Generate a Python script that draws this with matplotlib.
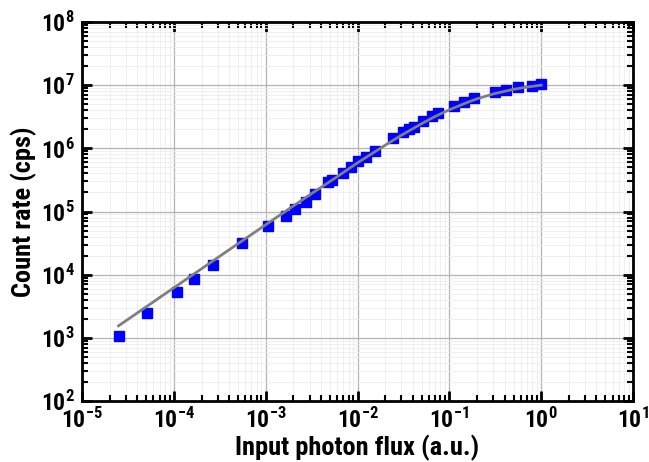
import matplotlib
matplotlib.use("Agg")
import matplotlib.pyplot as plt
from matplotlib.ticker import LogLocator, NullFormatter, FixedLocator
from matplotlib import font_manager

# ---- data ----
flux = [2.53e-5, 5.1e-5, 1.08e-4, 1.66e-4, 2.7e-4, 5.5e-4, 1.06e-3, 1.67e-3, 2.09e-3,
        2.75e-3, 3.45e-3, 4.8e-3, 5.25e-3, 6.9e-3, 8.45e-3, 1.0e-2, 1.24e-2, 1.56e-2,
        2.46e-2, 3.16e-2, 3.6e-2, 4.1e-2, 5.2e-2, 6.4e-2, 7.6e-2, 0.111, 0.143, 0.186,
        0.316, 0.416, 0.552, 0.80, 1.0]
counts = [1.07e3, 2.5e3, 5.3e3, 8.5e3, 1.43e4, 3.2e4, 5.9e4, 8.5e4, 1.1e5,
          1.4e5, 1.9e5, 2.9e5, 3.2e5, 4.0e5, 5.0e5, 6.2e5, 7.4e5, 9.2e5,
          1.44e6, 1.84e6, 2.05e6, 2.2e6, 2.75e6, 3.24e6, 3.6e6, 4.6e6, 5.5e6, 6.2e6,
          7.7e6, 8.4e6, 9.2e6, 9.7e6, 1.05e7]

fit_flux = [2.5e-5, 1e-4, 3e-4, 1e-3, 3e-3, 6e-3, 1e-2, 2e-2, 3e-2, 5e-2, 7e-2,
            0.1, 0.15, 0.2, 0.3, 0.5, 0.7, 1.0]
fit_counts = [1.55e3, 6.2e3, 1.86e4, 6.17e4, 1.83e5, 3.55e5, 5.9e5, 1.12e6, 1.61e6,
              2.46e6, 3.2e6, 4.08e6, 5.2e6, 6.08e6, 7.26e6, 8.6e6, 9.33e6, 1.0e7]

x_ticks = [1e-5, 1e-4, 1e-3, 1e-2, 1e-1, 1e0, 1e1]
x_tick_labels = [r'$\mathbf{10^{-5}}$', r'$\mathbf{10^{-4}}$', r'$\mathbf{10^{-3}}$',
                 r'$\mathbf{10^{-2}}$', r'$\mathbf{10^{-1}}$', r'$\mathbf{10^{0}}$',
                 r'$\mathbf{10^{1}}$']
y_ticks = [1e2, 1e3, 1e4, 1e5, 1e6, 1e7, 1e8]
y_tick_labels = [r'$\mathbf{10^{2}}$', r'$\mathbf{10^{3}}$', r'$\mathbf{10^{4}}$',
                 r'$\mathbf{10^{5}}$', r'$\mathbf{10^{6}}$', r'$\mathbf{10^{7}}$',
                 r'$\mathbf{10^{8}}$']

# ---- fonts: prefer a narrow bold sans ----
bold_fams = {f.name for f in font_manager.fontManager.ttflist if f.weight in (700, 'bold')}
fam = 'Liberation Sans'
for cand in ['Liberation Sans Narrow', 'Arial Narrow', 'Archivo Narrow', 'Roboto Condensed',
             'Pragati Narrow', 'PT Sans Narrow']:
    if cand in bold_fams:
        fam = cand
        break
plt.rcParams['font.family'] = [fam, 'DejaVu Sans']
plt.rcParams['mathtext.fontset'] = 'custom'
plt.rcParams['mathtext.rm'] = fam
plt.rcParams['mathtext.bf'] = fam + ':bold'
plt.rcParams['mathtext.it'] = fam + ':italic'

fig = plt.figure(figsize=(6.49, 4.62), dpi=100)
ax = fig.add_axes([0.1264, 0.132, 0.849, 0.8204])

ax.set_xscale('log')
ax.set_yscale('log')
ax.set_xlim(1e-5, 1e1)
ax.set_ylim(1e2, 1e8)

ax.grid(True, which='major', color='#b4b4b4', linewidth=0.9, zorder=0)
ax.grid(True, which='minor', color='#ececec', linewidth=0.6, zorder=0)
ax.set_axisbelow(True)

ax.plot(flux, counts, linestyle='none', marker='s', markersize=7.5,
        color='#0000ff', markeredgecolor='#0000ff', zorder=3)
ax.plot(fit_flux, fit_counts, color='#7f7f7f', linewidth=2.0, zorder=4)

ax.xaxis.set_major_locator(FixedLocator(x_ticks))
ax.yaxis.set_major_locator(FixedLocator(y_ticks))
ax.set_xticklabels(x_tick_labels)
ax.set_yticklabels(y_tick_labels)
ax.xaxis.set_minor_locator(LogLocator(base=10, subs=range(2, 10), numticks=20))
ax.yaxis.set_minor_locator(LogLocator(base=10, subs=range(2, 10), numticks=20))
ax.xaxis.set_minor_formatter(NullFormatter())
ax.yaxis.set_minor_formatter(NullFormatter())

ax.tick_params(which='both', direction='in', top=True, right=True, color='black')
ax.tick_params(which='major', length=7, width=2, labelsize=17)
ax.tick_params(axis='x', which='major', pad=5)
ax.tick_params(axis='y', which='major', pad=5)
ax.tick_params(which='minor', length=4, width=1.5)
for s in ax.spines.values():
    s.set_linewidth(2)
    s.set_color('black')

ax.set_xlabel('Input photon flux (a.u.)', fontsize=19, fontweight='bold', labelpad=1)
ax.set_ylabel('Count rate (cps)', fontsize=19, fontweight='bold', labelpad=3)

fig.savefig('out.png', dpi=100)
